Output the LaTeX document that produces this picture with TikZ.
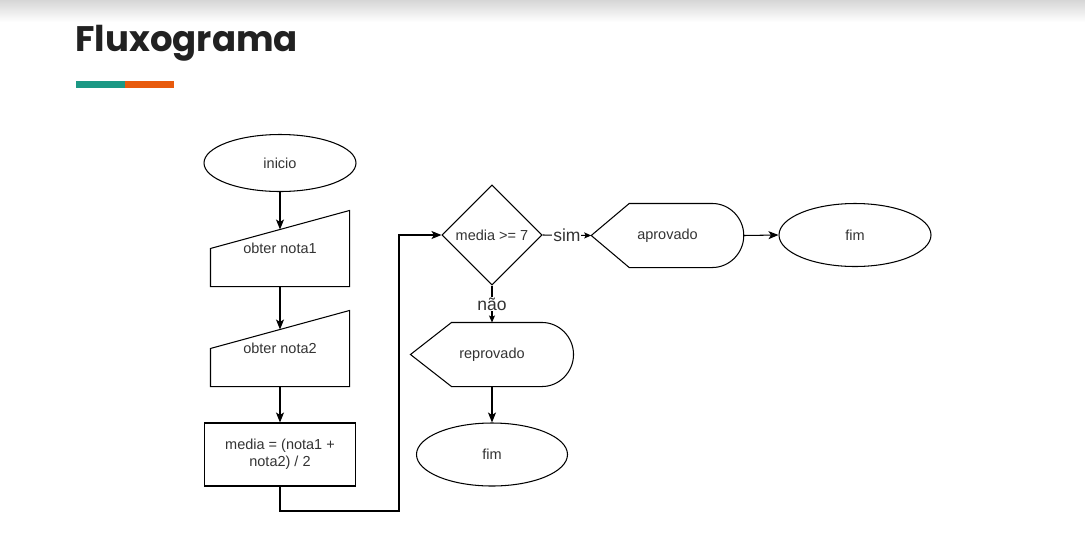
\documentclass[tikz,border=0pt]{standalone}
\usepackage{fontspec}
\setmainfont{Liberation Sans}
\newfontfamily\titlefont{Poppins}
\usetikzlibrary{arrows.meta,shapes.geometric,calc}
\definecolor{teal1}{RGB}{27,152,132}
\definecolor{orange1}{RGB}{232,90,12}
\definecolor{txt}{RGB}{51,51,51}
\definecolor{ttl}{RGB}{33,33,33}
\newcommand\manualinput[1]{%
  \coordinate (#1tl) at ($(#1.north west)+(0,38)$);
  \coordinate (#1in) at ($(#1tl)!0.5!(#1.north east)$);
  \draw (#1.south west) -- (#1.south east) -- (#1.north east) -- (#1tl) -- cycle;}
\newcommand\displayshape[2]{%
  \draw (#1.west) -- ($(#1.north west)+(#2,0)$) -- ($(#1.north east)+(-31.5,0)$)
    .. controls +(17.4,0) and +(0,-17.4) .. (#1.east)
    .. controls +(0,17.4) and +(17.4,0) .. ($(#1.south east)+(-31.5,0)$)
    -- ($(#1.south west)+(#2,0)$) -- cycle;}
\begin{document}
\begin{tikzpicture}[x=1pt,y=-1pt, line width=1.05pt,
  lbl/.style={font=\fontsize{14.5}{17}\selectfont, text=txt, inner sep=0},
  term/.style={ellipse, draw, minimum width=152, minimum height=57, lbl},
  inbox/.style={rectangle, minimum width=138, minimum height=75, lbl},
  dispbox/.style={rectangle, minimum height=63, lbl},
  elabel/.style={fill=white, inner sep=1, font=\fontsize{17.5}{20}\selectfont, text=txt},
  arr/.style={-{Stealth[length=10,width=8,inset=2.5]}},
  sarr/.style={-{Stealth[length=7,width=6,inset=1.5]}},
  ]
\useasboundingbox (0,0) rectangle (1085,550);
\shade[top color=black!16, bottom color=white] (0,0) rectangle (1085,22);
\node[anchor=base west, inner sep=0, font=\titlefont\bfseries\fontsize{35.5}{40}\selectfont, text=ttl] (title) at (75,51) {Fluxograma};
\fill[teal1] (76,81) rectangle (125,88);
\fill[orange1] (125,81) rectangle (174,88);

\node[term] (inicio) at (280,163) {inicio};
\node[inbox] (n1) at (280,248.5) {obter nota1};
\manualinput{n1}
\node[inbox] (n2) at (280,348.5) {obter nota2};
\manualinput{n2}
\node[draw, rectangle, minimum width=151, minimum height=63, align=center, lbl] (calc) at (280,454.5) {media = (nota1 +\\nota2) / 2};

\node[diamond, draw, minimum width=100, minimum height=100, lbl] (dec) at (492,235) {media >= 7};
\node[dispbox, minimum width=151.5] (apr) at (667.5,235.5) {aprovado};
\displayshape{apr}{38}
\node[term, minimum height=63] (fim1) at (855,235) {fim};
\node[dispbox, minimum width=162] (rep) at (492,354.5) {reprovado};
\displayshape{rep}{41}
\node[term, minimum width=151, minimum height=63] (fim2) at (492,454.5) {fim};

\coordinate (c1) at (399,511);
\draw[arr] (inicio.south) -- (n1in);
\draw[arr] (n1.south) -- (n2in);
\draw[arr] (n2.south) -- (calc.north);
\draw[arr] (calc.south) |- (c1) |- (dec.west);
\draw[sarr] (dec.east) -- node[elabel] {sim} (apr.west);
\draw[arr] (apr.east) -- (fim1.west);
\draw[sarr] (dec.south) -- node[elabel] {não} (rep.north);
\draw[arr] (rep.south) -- (fim2.north);
\end{tikzpicture}
\end{document}
